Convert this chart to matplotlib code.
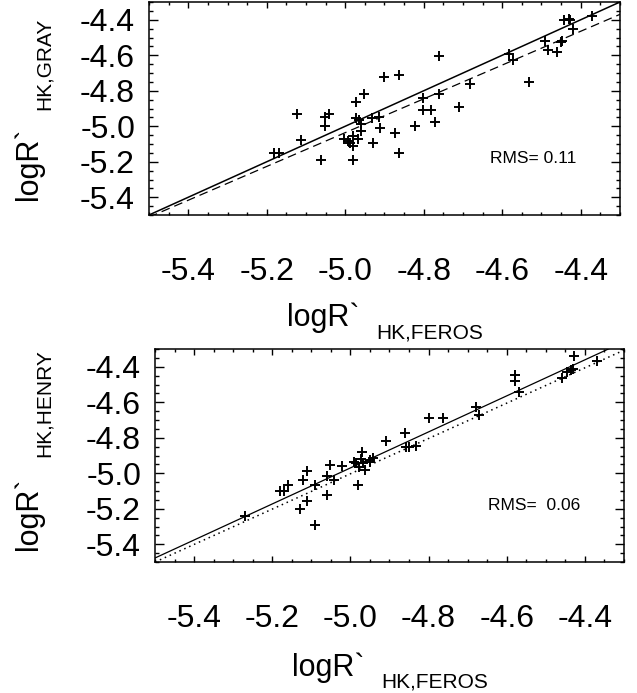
import matplotlib
matplotlib.use("Agg")
import matplotlib.pyplot as plt
import numpy as np

plt.rcParams["font.family"] = ["Liberation Sans", "DejaVu Sans"]
plt.rcParams["axes.unicode_minus"] = False

# panel 1: FEROS vs GRAY
feros_gray = [-5.181, -5.170, -5.122, -5.112, -5.063, -5.052, -5.052, -5.042,
              -5.002, -4.992, -4.988, -4.981, -4.981, -4.981, -4.972, -4.972,
              -4.968, -4.964, -4.961, -4.961, -4.951, -4.932, -4.930, -4.913,
              -4.911, -4.902, -4.872, -4.862, -4.862, -4.822, -4.802, -4.802,
              -4.781, -4.772, -4.762, -4.761, -4.711, -4.681, -4.582, -4.572,
              -4.531, -4.491, -4.483, -4.461, -4.451, -4.449, -4.443, -4.430,
              -4.427, -4.419, -4.372]
gray = [-5.151, -5.151, -4.930, -5.078, -5.190, -4.948, -5.000, -4.930,
        -5.071, -5.084, -5.097, -5.112, -5.190, -5.056, -4.861, -4.954,
        -5.071, -4.967, -4.986, -5.028, -4.820, -4.954, -5.097, -4.948,
        -5.010, -4.722, -5.038, -4.712, -5.149, -5.000, -4.839, -4.911,
        -4.911, -4.978, -4.820, -4.603, -4.889, -4.762, -4.595, -4.625,
        -4.751, -4.521, -4.569, -4.582, -4.528, -4.521, -4.400, -4.396,
        -4.400, -4.452, -4.381]
gray_fit = (0.952, -0.276)   # slope, intercept of dashed line
gray_rms = "RMS= 0.11"

# panel 2: FEROS vs HENRY
feros_henry = [-5.270, -5.181, -5.171, -5.160, -5.130, -5.122, -5.110, -5.110,
               -5.090, -5.090, -5.060, -5.060, -5.051, -5.041, -5.021, -4.990,
               -4.986, -4.980, -4.977, -4.974, -4.970, -4.969, -4.962, -4.951,
               -4.949, -4.943, -4.909, -4.860, -4.858, -4.851, -4.831, -4.798,
               -4.762, -4.679, -4.671, -4.580, -4.580, -4.569, -4.458, -4.447,
               -4.436, -4.430, -4.428, -4.369]
henry = [-5.239, -5.098, -5.098, -5.067, -5.200, -5.037, -4.990, -5.158,
         -5.067, -5.290, -5.018, -5.123, -4.951, -5.040, -4.960, -4.934,
         -4.943, -5.069, -4.962, -4.921, -4.883, -4.943, -4.981, -4.934,
         -4.924, -4.915, -4.818, -4.771, -4.853, -4.853, -4.849, -4.688,
         -4.688, -4.628, -4.672, -4.447, -4.479, -4.540, -4.466, -4.432,
         -4.419, -4.415, -4.338, -4.368]
henry_fit = (1.015, 0.105)    # solid line
henry_ref = (0.995, -0.028)   # dotted line
henry_rms = "RMS=  0.06"

ticks = [-5.4, -5.2, -5.0, -4.8, -4.6, -4.4]
lims = (-5.5, -4.3)

W, H = 637, 693
fig = plt.figure(figsize=(W / 100, H / 100), dpi=100)


def px_axes(left, top, right, bottom):
    return fig.add_axes([left / W, 1 - bottom / H, (right - left) / W, (bottom - top) / H])


def style(ax):
    ax.set_xlim(*lims)
    ax.set_ylim(*lims)
    ax.set_xticks(ticks)
    ax.set_yticks(ticks)
    ax.set_xticklabels(["%.1f" % t for t in ticks])
    ax.set_yticklabels(["%.1f" % t for t in ticks])
    ax.set_xticks(np.arange(-5.5, -4.29, 0.05), minor=True)
    ax.set_yticks(np.arange(-5.5, -4.29, 0.05), minor=True)
    ax.tick_params(which="both", direction="in", top=True, right=True, width=1.0)
    ax.tick_params(axis="x", which="major", length=4.5, pad=30, labelsize=23)
    ax.tick_params(axis="x", which="minor", length=2)
    ax.tick_params(axis="y", which="major", length=6.5, pad=10, labelsize=23)
    ax.tick_params(axis="y", which="minor", length=3.2)
    for s in ax.spines.values():
        s.set_linewidth(1.1)


xx = np.array(lims)

ax1 = px_axes(149, 2, 620, 215)
ax1.plot(feros_gray, gray, "k+", ms=7, mew=1.4)
ax1.plot(xx, xx, "k-", lw=1.1)
ax1.plot(xx, gray_fit[0] * xx + gray_fit[1], "k", lw=0.9, dashes=(7, 4))
ax1.text(-4.63, -5.207, gray_rms, fontsize=12.5)
style(ax1)

ax2 = px_axes(155, 349, 624, 562)
ax2.plot(feros_henry, henry, "k+", ms=7, mew=1.4)
ax2.plot(xx, henry_fit[0] * xx + henry_fit[1], "k-", lw=0.9)
ax2.plot(xx, henry_ref[0] * xx + henry_ref[1], "k", lw=1.1, dashes=(1, 2.5))
ax2.text(-4.648, -5.207, henry_rms, fontsize=12.5)
style(ax2)


def label(x, y, s, size, rot=0):
    fig.text(x / W, 1 - y / H, s, fontsize=size, rotation=rot,
             rotation_mode="anchor", ha="left", va="baseline")


# x labels
label(287, 326, "logR`", 22)
label(376, 338, "HK,FEROS", 15)
label(292, 676, "logR`", 22)
label(381, 688, "HK,FEROS", 15)
# y labels
label(37, 200, "logR`", 22, 90)
label(50, 110, "HK,GRAY", 15, 90)
label(37, 550, "logR`", 22, 90)
label(50, 457, "HK,HENRY", 15, 90)

fig.savefig("out.png", dpi=100)
